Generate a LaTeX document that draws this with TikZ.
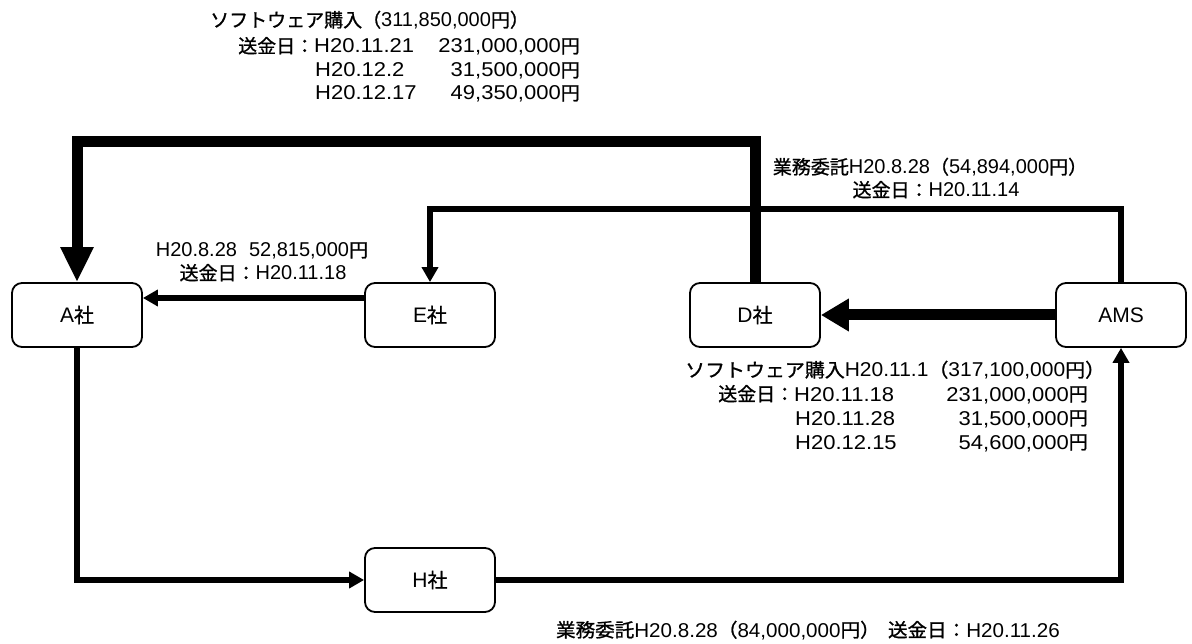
\documentclass[tikz,border=0pt]{standalone}
\usepackage{fontspec}
\usepackage{graphicx}
\setmainfont{Liberation Sans}
\newfontfamily\jp{Noto Sans CJK JP}[Scale=0.95,FakeBold=1]
\newcommand\J[1]{{\jp #1}}
\newcommand\W[1]{\scalebox{1.1}[1]{#1}}
\usetikzlibrary{arrows.meta}
\begin{document}
\begin{tikzpicture}[x=1pt,y=-1pt,
  box/.style={draw,line width=1.8pt,rounded corners=10pt,minimum width=130pt,minimum height=64pt,inner sep=0pt,font=\fontsize{21pt}{25pt}\selectfont},
  lbl/.style={inner sep=0pt,font=\fontsize{20pt}{24pt}\selectfont},
  thick/.style={line width=11pt,line join=miter},
  thin/.style={line width=5.5pt,line join=miter},
  bighead/.style={-{Triangle[length=35pt,width=31pt]}},
  midhead/.style={-{Triangle[length=28pt,width=31pt]}},
  smallhead/.style={-{Triangle[length=15pt,width=16pt]}}]
\useasboundingbox (0,0) rectangle (1192,644);
% boxes
\node[box] (A) at (77,315) {A\J{社}};
\node[box] (E) at (430,315) {E\J{社}};
\node[box] (D) at (755,315) {D\J{社}};
\node[box] (AMS) at (1121,315) {AMS};
\node[box] (H) at (430,580) {H\J{社}};
% connectors
\draw[thick,bighead] (D.north) -- (D.north |- 0,142) -| (A.north);
\draw[thin,smallhead] (AMS.north) -- (AMS.north |- 0,209) -| (E.north);
\draw[thin,smallhead] (E.west |- 0,298) -- (A.east |- 0,298);
\draw[thick,midhead] (AMS.west) -- (D.east);
\draw[thin,smallhead] (A.south) |- (H.west);
\draw[thin,smallhead] (H.east) -| (AMS.south);
% top labels
\node[lbl,anchor=base west] (t1) at (210,27) {\J{ソフトウェア購入（}311,850,000\J{円）}};
\node[lbl,anchor=base west] (t2) at (238,53) {\J{送金日：}\W{H20.11.21}};
\node[lbl,anchor=base east] (t2a) at (580,53) {\W{231,000,000}\J{円}};
\node[lbl,anchor=base west] (t3) at (315,77) {\W{H20.12.2}};
\node[lbl,anchor=base east] (t3a) at (580,77) {\W{31,500,000}\J{円}};
\node[lbl,anchor=base west] (t4) at (315,100) {\W{H20.12.17}};
\node[lbl,anchor=base east] (t4a) at (580,100) {\W{49,350,000}\J{円}};
% E-A labels
\node[lbl,anchor=base] (ea1) at (262,257) {H20.8.28\hspace{0.6em}52,815,000\J{円}};
\node[lbl,anchor=base] (ea2) at (263,280) {\J{送金日：}H20.11.18};
% AMS-E labels
\node[lbl,anchor=base] (ae1) at (930,174) {\J{業務委託}H20.8.28\J{（}54,894,000\J{円）}};
\node[lbl,anchor=base] (ae2) at (936,197) {\J{送金日：}H20.11.14};
% AMS-D labels
\node[lbl,anchor=base west] (d1) at (685,377) {\scalebox{1.05}[1]{\J{ソフトウェア購入}H20.11.1\J{（}317,100,000\J{円）}}};
\node[lbl,anchor=base west] (d2) at (718,401) {\J{送金日：}\W{H20.11.18}};
\node[lbl,anchor=base east] (d2a) at (1088,401) {\W{231,000,000}\J{円}};
\node[lbl,anchor=base west] (d3) at (795,425) {\W{H20.11.28}};
\node[lbl,anchor=base east] (d3a) at (1088,425) {\W{31,500,000}\J{円}};
\node[lbl,anchor=base west] (d4) at (795,449) {\W{H20.12.15}};
\node[lbl,anchor=base east] (d4a) at (1088,449) {\W{54,600,000}\J{円}};
% H-AMS label
\node[lbl,anchor=base east] (ha) at (1060,637) {\scalebox{1.03}[1]{\J{業務委託}H20.8.28\J{（}84,000,000\J{円）}\hspace{0.4em}\J{送金日：}H20.11.26}};
\end{tikzpicture}
\end{document}
